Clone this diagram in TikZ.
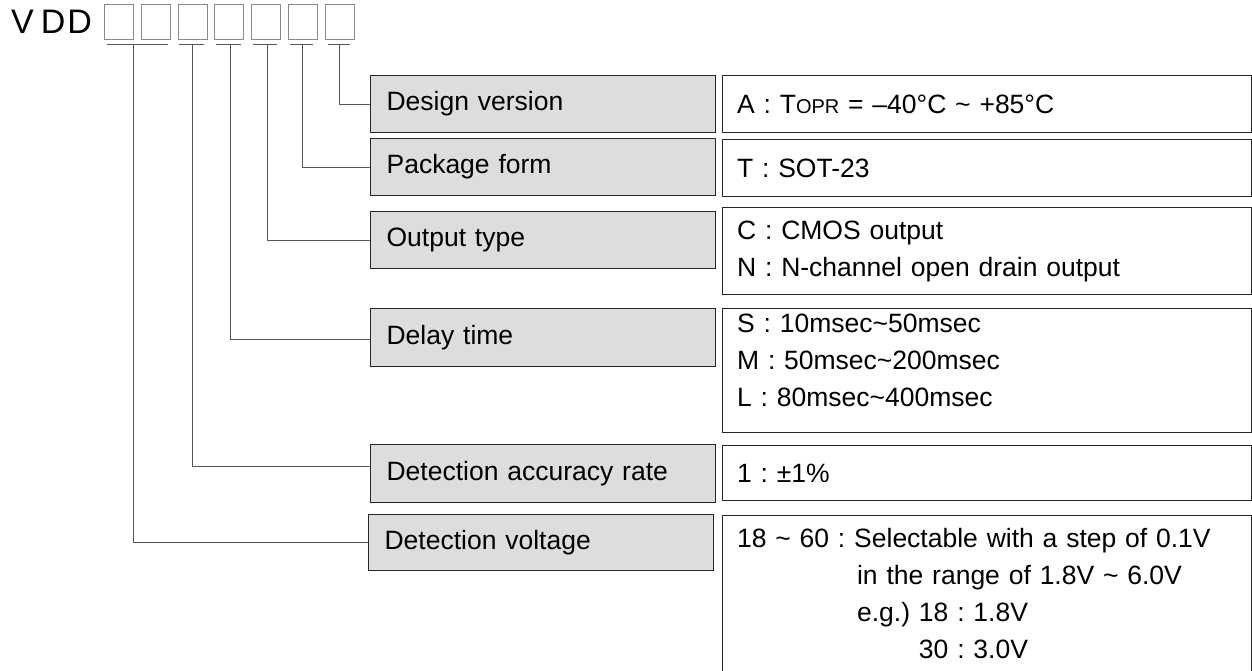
\documentclass[tikz,border=0pt]{standalone}
\usepackage{fontspec}
\setmainfont{Liberation Sans}
\frenchspacing
\definecolor{labelgray}{HTML}{DDDDDD}
\definecolor{linegray}{HTML}{555555}
\definecolor{digitgray}{HTML}{8A8A8A}
\tikzset{
  digit/.style={draw=digitgray, line width=1pt, minimum width=29pt, minimum height=35pt, inner sep=0pt, anchor=north west},
  itembox/.style={draw=black!85, fill=labelgray, line width=1.2pt, minimum height=57pt, text width=313pt, inner xsep=16pt, inner ysep=3pt, align=left, anchor=north west, font=\fontsize{26.5}{37}\selectfont},
  valbox/.style={draw=black!85, line width=1.2pt, text width=500pt, inner xsep=14.5pt, inner ysep=3pt, align=left, anchor=north west, font=\fontsize{26.5}{37}\selectfont},
  link/.style={draw=linegray, line width=1pt},
}

\begin{document}
\begin{tikzpicture}[x=1pt, y=-1pt]
    \useasboundingbox (0,0) rectangle (1252,671);

    % part number
    \node[anchor=base west, inner sep=0pt, font=\fontsize{34}{34}\selectfont] (vdd) at (11,34) {V\kern7pt D\kern2pt D};
    \foreach \i in {1,...,7}
        \node[digit] (d\i) at ({104+36.8*(\i-1)},4) {};

    % underlines and taps
    \draw[link] (107,45) -- (168,45);
    \draw[link] (179,45) -- (204,45);
    \draw[link] (216,45) -- (241,45);
    \draw[link] (253,45) -- (277,45);
    \draw[link] (290,45) -- (313,45);
    \draw[link] (328,45) -- (350,45);
    \coordinate (t1) at (133,45);
    \coordinate (t2) at (192,45);
    \coordinate (t3) at (230,45);
    \coordinate (t4) at (267,45);
    \coordinate (t5) at (302,45);
    \coordinate (t6) at (339,45);

    % item names
    \node[itembox] (ver) at (370,75) {Design version};
    \node[itembox] (pkg) at (370,138) {Package form};
    \node[itembox] (out) at (370,211) {Output type};
    \node[itembox, minimum height=58pt] (dly) at (370,308) {Delay time};
    \node[itembox, minimum height=58pt] (acc) at (370,444) {Detection accuracy rate};
    \node[itembox, minimum height=56pt] (vdet) at (368,514) {Detection voltage};

    % values
    \node[valbox, minimum height=57pt] (ver-v) at (722,75) {A : T{\fontsize{20}{20}\selectfont OPR} = –40°C \textasciitilde{} +85°C};
    \node[valbox, minimum height=57pt] (pkg-v) at (722,139) {T : SOT-23};
    \node[valbox, minimum height=87pt] (out-v) at (722,207) {C : CMOS output\\N : N-channel open drain output};
    \node[valbox, minimum height=124pt] (dly-v) at (722,308) {S : 10msec\textasciitilde 50msec\\M : 50msec\textasciitilde 200msec\\L : 80msec\textasciitilde 400msec\rule[-20pt]{0pt}{0pt}};
    \node[valbox, minimum height=55pt] (acc-v) at (722,445) {1 : ±1\%};
    \node[valbox, minimum height=162pt] (vdet-v) at (722,515) {18 \textasciitilde{} 60 : Selectable with a step of 0.1V\\
        \hspace*{120pt}in the range of 1.8V \textasciitilde{} 6.0V\\
        \hspace*{120pt}e.g.) 18 : 1.8V\\
        \hspace*{120pt}\phantom{e.g.) }30 : 3.0V};

    % connectors
    \draw[link] (t6) |- (ver.west);
    \draw[link] (t5) |- (pkg.west);
    \draw[link] (t4) |- (out.west);
    \draw[link] (t3) |- ([yshift=-2pt]dly.west);
    \draw[link] (t2) |- ([yshift=7pt]acc.west);
    \draw[link] (t1) |- (vdet.west);
\end{tikzpicture}
\end{document}
